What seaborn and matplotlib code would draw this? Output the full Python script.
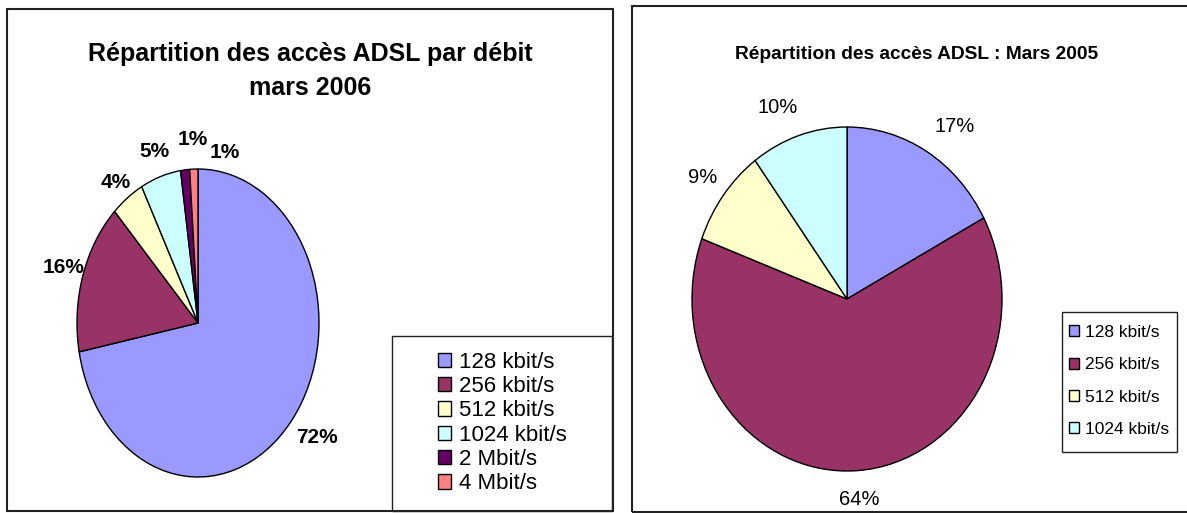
import matplotlib
matplotlib.use("Agg")
import matplotlib.pyplot as plt
from matplotlib.patches import Rectangle
import seaborn as sns

# données : répartition des accès ADSL par débit
debits_2006 = ["128 kbit/s", "256 kbit/s", "512 kbit/s", "1024 kbit/s", "2 Mbit/s", "4 Mbit/s"]
parts_2006 = [72.0, 15.9, 4.4, 5.4, 1.2, 1.1]
debits_2005 = ["128 kbit/s", "256 kbit/s", "512 kbit/s", "1024 kbit/s"]
parts_2005 = [17.2, 63.5, 9.2, 10.1]
couleurs = ["#9999FF", "#993366", "#FFFFCC", "#CCFFFF", "#660066", "#FF8080"]

W, H = 1187, 513
sns.set_theme(style="white")
plt.rcParams['font.family'] = ['Liberation Sans', 'DejaVu Sans']
plt.rcParams['text.color'] = 'black'

fig = plt.figure(figsize=(W / 100, H / 100), dpi=100)
fig.patch.set_facecolor('white')


def rect_px(x0, y0, x1, y1):
    # pixels (origine en haut à gauche) -> fraction de figure
    return [x0 / W, 1 - y1 / H, (x1 - x0) / W, (y1 - y0) / H]


def cadre(x0, y0, x1, y1, lw=1.5):
    r = rect_px(x0, y0, x1, y1)
    fig.patches.append(Rectangle((r[0], r[1]), r[2], r[3], transform=fig.transFigure,
                                 fill=False, edgecolor='#222222', linewidth=lw))


def camembert(r, parts, dist, font):
    ax = fig.add_axes(r)
    labels = [f"{round(p)}%" for p in parts]
    wedges, texts = ax.pie(parts, labels=labels, colors=couleurs[:len(parts)],
                           startangle=90, counterclock=False, labeldistance=dist,
                           wedgeprops=dict(edgecolor='black', linewidth=1.0),
                           textprops=font)
    ax.set_aspect('auto')
    ax.set_xlim(-1, 1)
    ax.set_ylim(-1, 1)
    ax.axis('off')
    for w in wedges:
        w.set_clip_on(False)
    for t in texts:
        t.set_ha('center')
        t.set_va('center')
        t.set_clip_on(False)
    return ax, wedges, texts


def decaler(texts, decalages):
    for t, (dx, dy) in zip(texts, decalages):
        x, y = t.get_position()
        t.set_position((x + dx, y + dy))


# cadres des deux graphiques
cadre(7, 9, 613, 511)
cadre(632, 6, 1200, 512)

# --- mars 2006 ---
ax1, w1, t1 = camembert(rect_px(77, 169, 319, 477), parts_2006, 1.17,
                        dict(weight='bold', size=15, color='black'))
decaler(t1, [(0.08, 0), (0, 0), (0, -0.04), (0, 0), (0.08, 0.03), (0.26, -0.06)])

fig.text(310 / W, 1 - 71 / H, "Répartition des accès ADSL par débit\nmars 2006",
         ha='center', va='center', fontsize=18, weight='bold', linespacing=1.55)

cadre(392, 336, 612, 511, lw=1.0)
ax1.legend(w1, debits_2006, loc='center', bbox_to_anchor=(502 / W, 1 - 423 / H),
           bbox_transform=fig.transFigure, frameon=False, fontsize=16,
           labelspacing=0.15, handlelength=0.6, handleheight=0.6, handletextpad=0.35,
           borderpad=0)

# --- mars 2005 ---
ax2, w2, t2 = camembert(rect_px(692, 127, 1002, 471), parts_2005, 1.17,
                        dict(size=14.5, color='black'))
decaler(t2, [(0.09, 0), (0, 0), (0, 0), (-0.08, 0)])
fig.text(917 / W, 1 - 55 / H, "Répartition des accès ADSL : Mars 2005",
         ha='center', va='center', fontsize=13.8, weight='bold')

cadre(1062, 312, 1177, 452, lw=1.0)
ax2.legend(w2, debits_2005, loc='center', bbox_to_anchor=(1119 / W, 1 - 381 / H),
           bbox_transform=fig.transFigure, frameon=False, fontsize=12.5,
           labelspacing=1.0, handlelength=0.6, handleheight=0.6, handletextpad=0.35,
           borderpad=0)

fig.savefig("out.png", dpi=100, facecolor='white')
